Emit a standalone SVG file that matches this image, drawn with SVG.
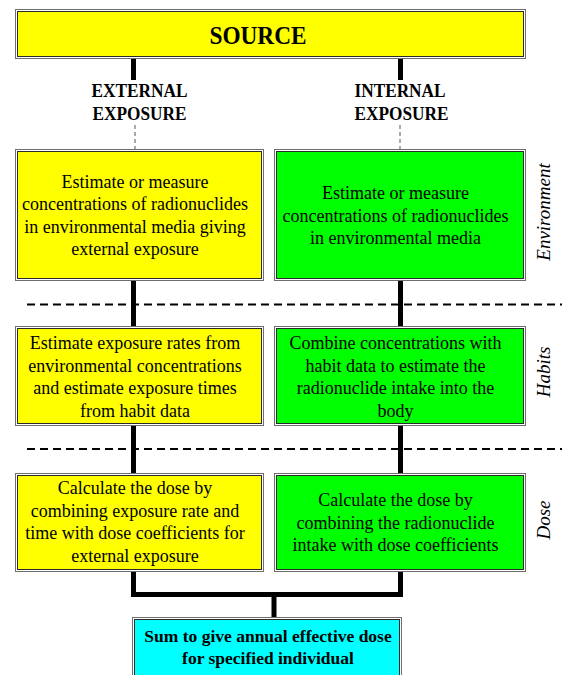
<svg xmlns="http://www.w3.org/2000/svg" width="562" height="675" viewBox="0 0 562 675">
<style>
.outer{fill:#ffffff;stroke:#6e6e6e;stroke-width:1}
.inner{stroke:#2a2a2a;stroke-width:1}
.y{fill:#ffff00}.g{fill:#00ff00}.c{fill:#00ffff}
text{font-family:"Liberation Serif","Times New Roman",serif;fill:#000;text-anchor:middle}
.t{font-size:18px}
.b{font-size:17.5px;font-weight:bold}
.h{font-size:19px;font-weight:bold}
.side{font-size:19px;font-style:italic}
.thick{stroke:#000;stroke-width:5;fill:none}
.thin{stroke:#555;stroke-width:1;stroke-dasharray:4 3;fill:none}
.sep{stroke:#000;stroke-width:2;stroke-dasharray:8 5;fill:none}
</style>
<rect width="562" height="675" fill="#ffffff"/>
<g id="separators">
<path class="sep" d="M27 304.5H562M27 449H562"/>
</g>
<g id="connectors">
<path class="thick" d="M133.5 59V80M400.5 59V80"/>
<path class="thin" d="M135 125V149M400 125V149"/>
<path class="thick" d="M133.5 281V326M400.5 281V326"/>
<path class="thick" d="M133.5 426V473M400.5 426V473"/>
<path class="thick" d="M133.5 572V594.5H400.5V572M274 594.5V617"/>
</g>
<g id="source">
<rect class="outer" x="15.5" y="9.5" width="510" height="49"/>
<rect class="inner y" x="17.5" y="11.5" width="506" height="45"/>
<text x="258" y="44" style="font-size:26px;font-weight:bold" textLength="97" lengthAdjust="spacingAndGlyphs">SOURCE</text>
</g>
<g id="label-external">
<text class="h" x="139.5" y="97" textLength="96" lengthAdjust="spacingAndGlyphs">EXTERNAL</text>
<text class="h" x="139.5" y="119.5" textLength="94" lengthAdjust="spacingAndGlyphs">EXPOSURE</text>
</g>
<g id="label-internal">
<text class="h" x="400" y="97" textLength="91" lengthAdjust="spacingAndGlyphs">INTERNAL</text>
<text class="h" x="401.5" y="119.5" textLength="94" lengthAdjust="spacingAndGlyphs">EXPOSURE</text>
</g>
<g id="ext-env">
<rect class="outer" x="15.5" y="149.5" width="248" height="131"/>
<rect class="inner y" x="17.5" y="151.5" width="244" height="127"/>
<text class="t" x="135" y="187.5">Estimate or measure</text>
<text class="t" x="135" y="210">concentrations of radionuclides</text>
<text class="t" x="135" y="232.5">in environmental media giving</text>
<text class="t" x="135" y="255">external exposure</text>
</g>
<g id="int-env">
<rect class="outer" x="274.5" y="149.5" width="251" height="131"/>
<rect class="inner g" x="276.5" y="151.5" width="247" height="127"/>
<text class="t" x="395.5" y="199">Estimate or measure</text>
<text class="t" x="395.5" y="221.5">concentrations of radionuclides</text>
<text class="t" x="395.5" y="244">in environmental media</text>
</g>
<g id="ext-habits">
<rect class="outer" x="15.5" y="326.5" width="248" height="99"/>
<rect class="inner y" x="17.5" y="328.5" width="244" height="95"/>
<text class="t" x="135" y="349">Estimate exposure rates from</text>
<text class="t" x="135" y="371.5">environmental concentrations</text>
<text class="t" x="135" y="394">and estimate exposure times</text>
<text class="t" x="135" y="416.5">from habit data</text>
</g>
<g id="int-habits">
<rect class="outer" x="274.5" y="326.5" width="251" height="99"/>
<rect class="inner g" x="276.5" y="328.5" width="247" height="95"/>
<text class="t" x="395.5" y="349">Combine concentrations with</text>
<text class="t" x="395.5" y="371.5">habit data to estimate the</text>
<text class="t" x="395.5" y="394">radionuclide intake into the</text>
<text class="t" x="395.5" y="416.5">body</text>
</g>
<g id="ext-dose">
<rect class="outer" x="15.5" y="473.5" width="248" height="98"/>
<rect class="inner y" x="17.5" y="475.5" width="244" height="94"/>
<text class="t" x="135" y="494">Calculate the dose by</text>
<text class="t" x="135" y="516.5">combining exposure rate and</text>
<text class="t" x="135" y="539">time with dose coefficients for</text>
<text class="t" x="135" y="561.5">external exposure</text>
</g>
<g id="int-dose">
<rect class="outer" x="274.5" y="473.5" width="251" height="98"/>
<rect class="inner g" x="276.5" y="475.5" width="247" height="94"/>
<text class="t" x="395.5" y="506">Calculate the dose by</text>
<text class="t" x="395.5" y="528.5">combining the radionuclide</text>
<text class="t" x="395.5" y="551">intake with dose coefficients</text>
</g>
<g id="sum">
<rect class="outer" x="132.5" y="617.5" width="269" height="64"/>
<rect class="inner c" x="134.5" y="619.5" width="265" height="60"/>
<text class="b" x="268" y="642">Sum to give annual effective dose</text>
<text class="b" x="268" y="664">for specified individual</text>
</g>
<g id="side-labels">
<text class="side" transform="translate(550 212) rotate(-90)">Environment</text>
<text class="side" transform="translate(550 372) rotate(-90)">Habits</text>
<text class="side" transform="translate(550 520) rotate(-90)">Dose</text>
</g>
</svg>
